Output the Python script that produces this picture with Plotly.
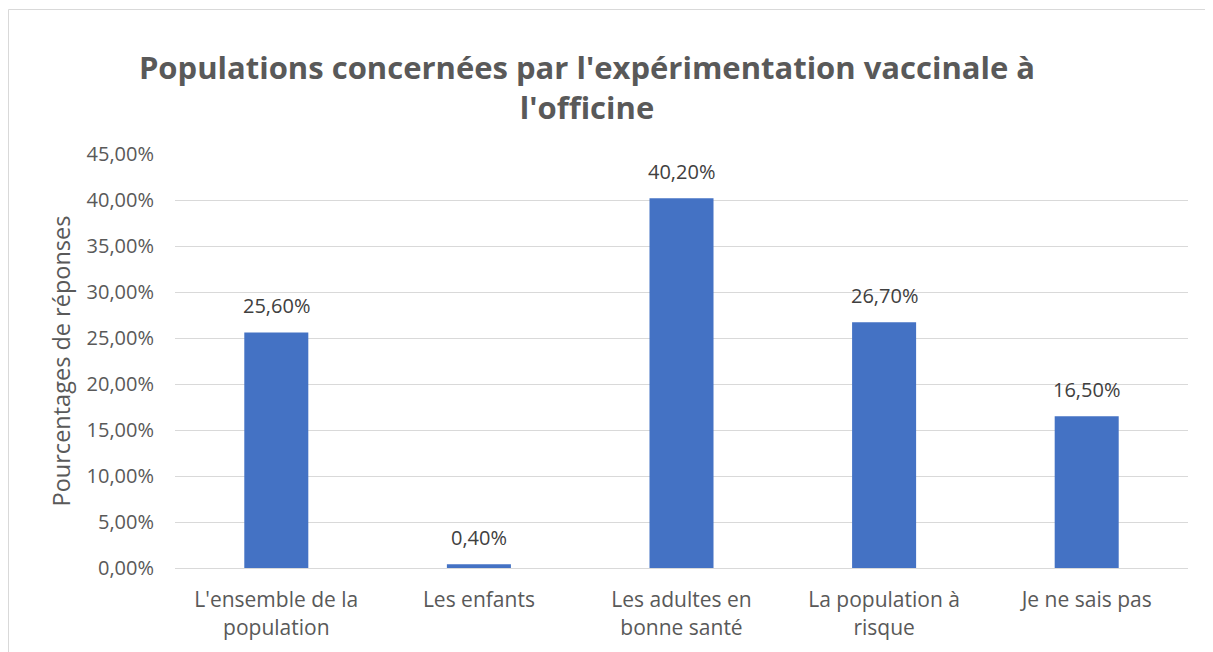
import plotly.graph_objects as go

categories = ["L'ensemble de la<br>population", "Les enfants", "Les adultes en<br>bonne santé",
              "La population à<br>risque", "Je ne sais pas"]
values = [0.256, 0.004, 0.402, 0.267, 0.165]
y_ticks = [0, 0.05, 0.10, 0.15, 0.20, 0.25, 0.30, 0.35, 0.40, 0.45]
title_text = "Populations concernées par l'expérimentation vaccinale à<br>l'officine"

# page body has an 8px margin, so the figure is sized/offset to compensate
W, H = 1205, 644
L, R, T, B = 167, 25, 146, 84
pw, ph = W - L - R, H - T - B

font = "Open Sans"

fig = go.Figure(go.Bar(
    x=categories, y=values,
    marker=dict(color="#4472C4", line=dict(width=0)),
    hoverinfo="x+y",
))

annotations = [
    dict(x=c, y=v, xref="x", yref="y", text=f"{v*100:.2f}%".replace(".", ","),
         showarrow=False, yanchor="bottom", yshift=11,
         font=dict(size=20, color="#404040", family=font))
    for c, v in zip(categories, values)
]

fig.update_layout(
    width=W, height=H,
    margin=dict(l=L, r=R, t=T, b=B, autoexpand=False),
    paper_bgcolor="white", plot_bgcolor="white",
    separators=", ",
    font=dict(family=font, color="#595959", size=20),
    bargap=0.684,
    showlegend=False,
    annotations=annotations,
    title=dict(
        text=f"<b>{title_text}</b>",
        x=579 / W, xanchor="center", xref="container",
        y=1 - 71 / H, yanchor="middle", yref="container",
        font=dict(size=31, color="#595959", family=font),
    ),
    xaxis=dict(showline=True, linecolor="#D9D9D9", linewidth=1, ticks="",
               ticklabelstandoff=13,
               tickfont=dict(size=21, color="#595959")),
    yaxis=dict(range=[0, 0.45], tickvals=y_ticks, tickformat=".2%",
               showgrid=True, gridcolor="#D9D9D9", gridwidth=1, zeroline=False,
               showline=False, ticks="", ticklabelstandoff=20,
               tickfont=dict(size=20, color="#595959"),
               title=dict(text="Pourcentages de réponses", font=dict(size=23.5, color="#595959"),
                          standoff=9)),
    shapes=[
        dict(type="line", xref="paper", yref="paper",
             x0=(0.5 - L) / pw, x1=(0.5 - L) / pw, y0=(H - B - 1.5) / ph, y1=-0.3,
             line=dict(color="#D9D9D9", width=1)),
        dict(type="line", xref="paper", yref="paper",
             x0=(0.5 - L) / pw, x1=1.1, y0=(H - B - 1.5) / ph, y1=(H - B - 1.5) / ph,
             line=dict(color="#D9D9D9", width=1)),
    ],
)

fig.write_html("out.html")
